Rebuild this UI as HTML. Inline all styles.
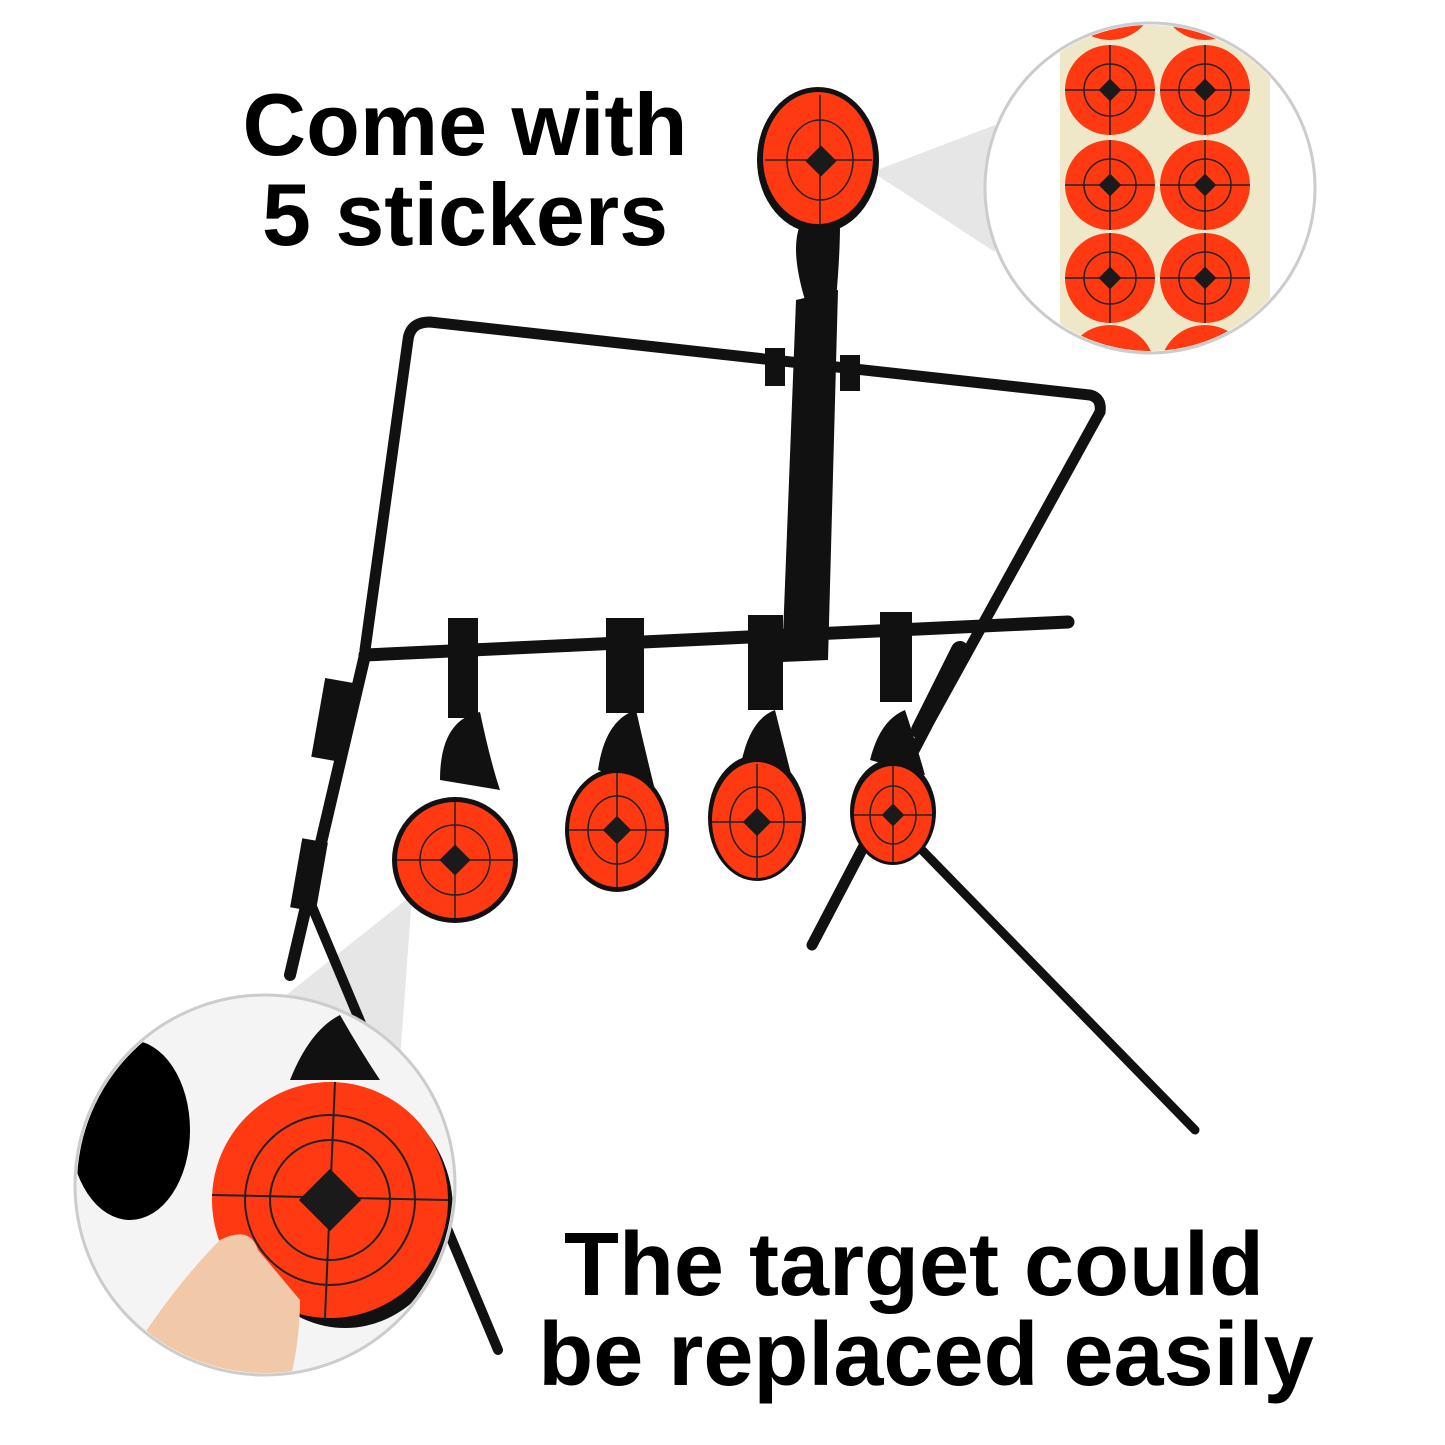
<!DOCTYPE html>
<html><head><meta charset="utf-8"><style>
html,body{margin:0;padding:0;background:#fff}
svg{display:block}
text{font-family:"Liberation Sans",Arial,sans-serif;font-weight:bold;fill:#000}
</style></head><body>
<svg width="1445" height="1445" viewBox="0 0 1445 1445" xmlns="http://www.w3.org/2000/svg">
<defs>
<clipPath id="c1"><circle cx="1150" cy="188" r="163"/></clipPath>
<clipPath id="c2"><circle cx="265" cy="1185" r="188"/></clipPath>
</defs>
<rect width="1445" height="1445" fill="#fff"/>
<text x="465" y="155" font-size="88" text-anchor="middle">Come with</text>
<text x="465" y="245" font-size="88" text-anchor="middle">5 stickers</text>
<text x="914" y="1295" font-size="90" text-anchor="middle">The target could</text>
<text x="926" y="1385" font-size="90" text-anchor="middle">be replaced easily</text>

<polygon points="872,172 995,125 995,252" fill="#e6e6e6"/>
<polygon points="412,895 280,1000 400,1060" fill="#e6e6e6"/>

<g stroke="#111" stroke-linecap="round" fill="none">
 <path d="M365,650 L408,340 Q410,322 430,322 L1090,395 Q1102,398 1100,412 L930,720 L812,945" stroke-width="11"/>
 <path d="M365,655 L1068,622" stroke-width="13"/>
 <path d="M365,655 L290,975" stroke-width="12"/>
 <path d="M305,890 L498,1350" stroke-width="10"/>
 <path d="M920,848 L1195,1130" stroke-width="9"/>
 <path d="M960,650 L920,730" stroke-width="18"/>
</g>
<rect x="318" y="680" width="30" height="80" fill="#111" transform="rotate(10 333 720)"/>
<rect x="296" y="840" width="26" height="70" fill="#111" transform="rotate(10 309 875)"/>
<polygon points="796,300 838,290 828,660 782,662" fill="#111"/>
<rect x="765" y="348" width="20" height="38" fill="#111"/>
<rect x="840" y="355" width="20" height="36" fill="#111"/>
<path d="M805,300 Q790,250 800,225 L840,225 Q840,255 836,300 Z" fill="#111"/>
<ellipse cx="818" cy="160" rx="61" ry="73" fill="#111"/>
<ellipse cx="818" cy="158" rx="55" ry="66" fill="#ff3a12"/>
<g stroke="#222" stroke-width="1.5" fill="none"><ellipse cx="820" cy="160" rx="33" ry="40"/><line x1="765" y1="160" x2="872" y2="160"/><line x1="820" y1="95" x2="820" y2="225"/></g>
<rect x="810" y="150" width="22" height="22" fill="#1a1a1a" transform="rotate(45 821 161)"/>

<g>
 <rect x="448" y="618" width="30" height="100" fill="#111"/>
 <path d="M440,780 Q440,720 480,712 Q490,760 500,790 Z" fill="#111"/>
 <ellipse cx="455" cy="860" rx="63" ry="63" fill="#111"/>
 <ellipse cx="455" cy="860" rx="58" ry="58" fill="#ff3a12"/>
 <g stroke="#222" stroke-width="1.5" fill="none"><circle cx="455" cy="860" r="35"/><line x1="397" y1="860" x2="513" y2="860"/><line x1="455" y1="802" x2="455" y2="918"/></g>
 <rect x="444" y="849" width="22" height="22" fill="#1a1a1a" transform="rotate(45 455 860)"/>

 <rect x="606" y="618" width="38" height="95" fill="#111"/>
 <path d="M598,770 Q605,720 636,710 Q645,750 655,790 Z" fill="#111"/>
 <ellipse cx="617" cy="830" rx="52" ry="62" fill="#111"/>
 <ellipse cx="617" cy="830" rx="48" ry="57" fill="#ff3a12"/>
 <g stroke="#222" stroke-width="1.5" fill="none"><ellipse cx="617" cy="830" rx="29" ry="34"/><line x1="569" y1="830" x2="665" y2="830"/><line x1="617" y1="773" x2="617" y2="887"/></g>
 <rect x="607" y="820" width="20" height="20" fill="#1a1a1a" transform="rotate(45 617 830)"/>

 <rect x="748" y="615" width="35" height="95" fill="#111"/>
 <path d="M740,770 Q748,720 775,710 Q785,750 795,790 Z" fill="#111"/>
 <ellipse cx="757" cy="818" rx="49" ry="63" fill="#111"/>
 <ellipse cx="757" cy="820" rx="45" ry="58" fill="#ff3a12"/>
 <g stroke="#222" stroke-width="1.5" fill="none"><ellipse cx="757" cy="822" rx="27" ry="35"/><line x1="712" y1="822" x2="802" y2="822"/><line x1="757" y1="764" x2="757" y2="880"/></g>
 <rect x="747" y="812" width="20" height="20" fill="#1a1a1a" transform="rotate(45 757 822)"/>

 <rect x="880" y="612" width="32" height="90" fill="#111"/>
 <path d="M870,760 Q880,720 905,710 Q915,740 925,775 Z" fill="#111"/>
 <ellipse cx="893" cy="812" rx="43" ry="53" fill="#111"/>
 <ellipse cx="893" cy="814" rx="39" ry="48" fill="#ff3a12"/>
 <g stroke="#222" stroke-width="1.5" fill="none"><ellipse cx="893" cy="815" rx="23" ry="29"/><line x1="854" y1="815" x2="932" y2="815"/><line x1="893" y1="766" x2="893" y2="862"/></g>
 <rect x="885" y="807" width="16" height="16" fill="#1a1a1a" transform="rotate(45 893 815)"/>
</g>

<circle cx="1150" cy="188" r="165" fill="#fff" stroke="#ccc" stroke-width="3"/>
<g clip-path="url(#c1)">
 <rect x="1060" y="20" width="210" height="340" fill="#efe8c8"/>
 <g fill="#ff3a12">
  <circle cx="1110" cy="90" r="45"/><circle cx="1205" cy="90" r="45"/>
  <circle cx="1110" cy="185" r="45"/><circle cx="1205" cy="185" r="45"/>
  <circle cx="1110" cy="278" r="45"/><circle cx="1205" cy="278" r="45"/>
  <circle cx="1110" cy="-5" r="45"/><circle cx="1205" cy="-5" r="45"/>
  <circle cx="1110" cy="370" r="45"/><circle cx="1205" cy="370" r="45"/>
 </g>
 <g stroke="#222" stroke-width="1.5" fill="none">
  <circle cx="1110" cy="90" r="26"/><circle cx="1205" cy="90" r="26"/>
  <circle cx="1110" cy="185" r="26"/><circle cx="1205" cy="185" r="26"/>
  <circle cx="1110" cy="278" r="26"/><circle cx="1205" cy="278" r="26"/>
  <path d="M1065,90H1155M1160,90H1250M1065,185H1155M1160,185H1250M1065,278H1155M1160,278H1250M1110,45V135M1205,45V135M1110,140V230M1205,140V230M1110,233V323M1205,233V323"/>
 </g>
 <g fill="#1a1a1a">
  <rect x="1102" y="82" width="16" height="16" transform="rotate(45 1110 90)"/>
  <rect x="1197" y="82" width="16" height="16" transform="rotate(45 1205 90)"/>
  <rect x="1102" y="177" width="16" height="16" transform="rotate(45 1110 185)"/>
  <rect x="1197" y="177" width="16" height="16" transform="rotate(45 1205 185)"/>
  <rect x="1102" y="270" width="16" height="16" transform="rotate(45 1110 278)"/>
  <rect x="1197" y="270" width="16" height="16" transform="rotate(45 1205 278)"/>
 </g>
</g>

<circle cx="265" cy="1185" r="190" fill="#f4f4f4" stroke="#ccc" stroke-width="3"/>
<g clip-path="url(#c2)">
 <ellipse cx="130" cy="1130" rx="60" ry="90" fill="#000"/>
 <path d="M290,1080 Q310,1030 340,1015 Q360,1050 380,1080 Z" fill="#111"/>
 <ellipse cx="345" cy="1210" rx="108" ry="118" fill="#111"/>
 <circle cx="330" cy="1200" r="118" fill="#ff3a12"/>
 <g stroke="#222" stroke-width="2" fill="none"><circle cx="330" cy="1200" r="85"/><circle cx="330" cy="1200" r="60"/><line x1="212" y1="1195" x2="448" y2="1200"/><line x1="335" y1="1082" x2="325" y2="1318"/></g>
 <rect x="308" y="1178" width="44" height="44" fill="#1a1a1a" transform="rotate(45 330 1200)"/>
 <path d="M140,1340 Q180,1280 220,1240 Q250,1225 258,1250 L300,1300 Q300,1340 290,1380 L140,1380 Z" fill="#f2c9a8"/>
</g>
</svg>
</body></html>
